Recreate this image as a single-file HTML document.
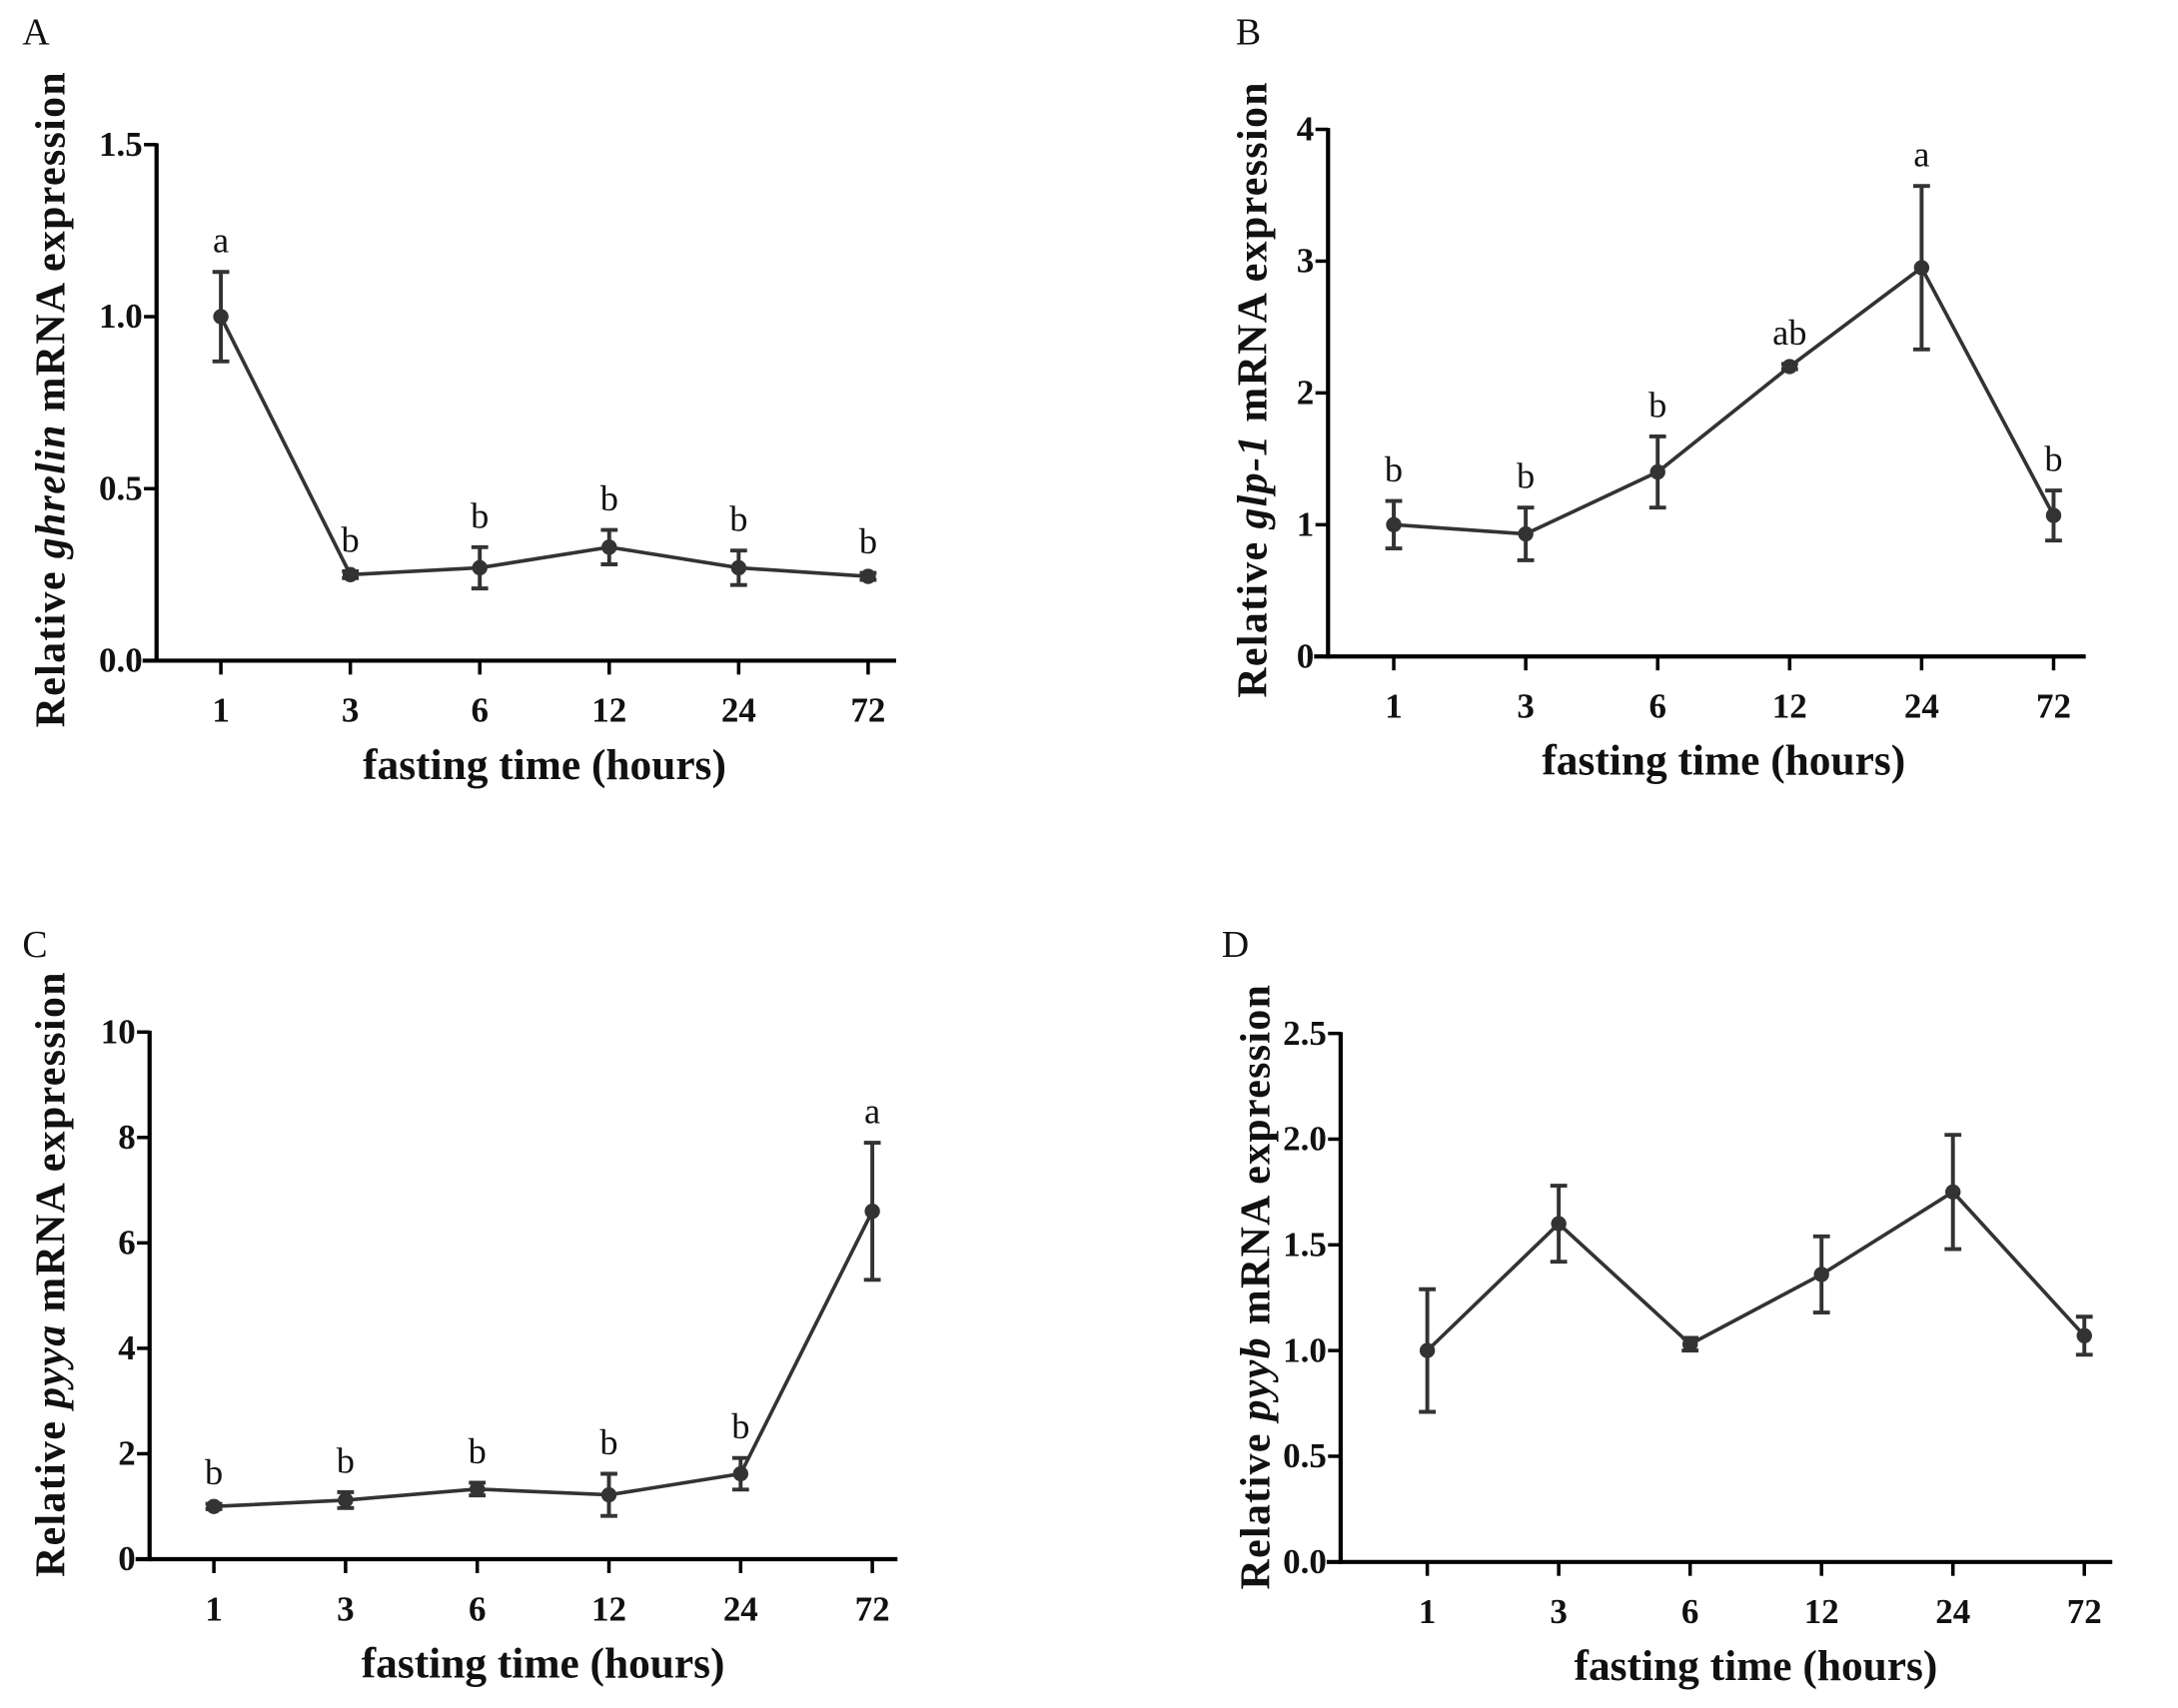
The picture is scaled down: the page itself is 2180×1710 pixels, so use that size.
<!DOCTYPE html>
<html><head><meta charset="utf-8"><style>
html,body{margin:0;padding:0;background:#fff;}
svg{display:block;}
text{font-family:"Liberation Serif",serif;fill:#111;}
</style></head><body>
<svg id="fig" width="2180" height="1710" viewBox="0 0 1558 1228" preserveAspectRatio="none" xmlns="http://www.w3.org/2000/svg"></svg>
<script>
const categories = ["1","3","6","12","24","72"];
const aValues = [1.0, 0.25, 0.27, 0.33, 0.27, 0.245];
const aErrors = [0.13, 0.01, 0.06, 0.05, 0.05, 0.01];
const aLetters = ["a","b","b","b","b","b"];
const aTicks = [0, 0.5, 1.0, 1.5];
const aTickLabels = ["0.0","0.5","1.0","1.5"];
const bValues = [1.0, 0.93, 1.4, 2.2, 2.95, 1.07];
const bErrors = [0.18, 0.2, 0.27, 0.02, 0.62, 0.19];
const bLetters = ["b","b","b","ab","a","b"];
const bTicks = [0,1,2,3,4];
const bTickLabels = ["0","1","2","3","4"];
const cValues = [1.0, 1.12, 1.33, 1.22, 1.62, 6.6];
const cErrors = [0.05, 0.15, 0.12, 0.4, 0.3, 1.3];
const cLetters = ["b","b","b","b","b","a"];
const cTicks = [0,2,4,6,8,10];
const cTickLabels = ["0","2","4","6","8","10"];
const dValues = [1.0, 1.6, 1.03, 1.36, 1.75, 1.07];
const dErrors = [0.29, 0.18, 0.03, 0.18, 0.27, 0.09];
const dLetters = [];
const dTicks = [0,0.5,1.0,1.5,2.0,2.5];
const dTickLabels = ["0.0","0.5","1.0","1.5","2.0","2.5"];

const NS = "http://www.w3.org/2000/svg";
const svg = document.getElementById("fig");
function mk(tag, attrs, parent){
  const e = document.createElementNS(NS, tag);
  for (const k in attrs) e.setAttribute(k, attrs[k]);
  (parent||svg).appendChild(e);
  return e;
}
function panel(cfg){
  const g = mk("g", {});
  
  
  const ymax = cfg.ticks[cfg.ticks.length-1];
  const yS = v => cfg.y0 - (v/ymax)*(cfg.y0 - cfg.yTop);
  const xS = i => cfg.xFirst + i*(cfg.xLast - cfg.xFirst)/(categories.length-1);
  const pl = mk("text", {x:cfg.lx, y:cfg.ly, "font-size":27}, g);
  pl.textContent = cfg.id;
  
  
  const ya = mk("line", {x1:cfg.ax, y1:cfg.yTop-1, x2:cfg.ax, y2:cfg.y0+1.5, stroke:"#000","stroke-width":3}, g);
  
  
  const xa = mk("line", {x1:cfg.ax-10, y1:cfg.y0, x2:cfg.xEnd, y2:cfg.y0, stroke:"#000","stroke-width":3}, g);
  
  
  cfg.ticks.forEach((t,i)=>{
    const y = yS(t);
    mk("line", {x1:cfg.ax-9, y1:y, x2:cfg.ax, y2:y, stroke:"#000","stroke-width":2.5}, g);
    const tl = mk("text", {x:cfg.ax-10, y:y+8, "font-size":25, "font-weight":"bold", "text-anchor":"end"}, g);
    tl.textContent = cfg.tickLabels[i];
    
    
  });
  categories.forEach((c,i)=>{
    const x = xS(i);
    mk("line", {x1:x, y1:cfg.y0, x2:x, y2:cfg.y0+10, stroke:"#000","stroke-width":2.5}, g);
    const tl = mk("text", {x:x, y:cfg.y0+44, "font-size":25, "font-weight":"bold", "text-anchor":"middle"}, g);
    tl.textContent = c;
    
    
  });
  const xt = mk("text", {x:(cfg.xFirst+cfg.xLast)/2, y:cfg.y0+85, "font-size":31, "font-weight":"bold", "text-anchor":"middle"}, g);
  xt.textContent = "fasting time (hours)";
  
  
  const yt = mk("text", {x:0, y:0, "font-size":30, "font-weight":"bold", "text-anchor":"middle", "letter-spacing":"1",
    transform:"translate(" + cfg.ytx + "," + cfg.yty + ") rotate(-90)"}, g);
  yt.appendChild(document.createTextNode("Relative "));
  const it = mk("tspan", {"font-style":"italic"}, yt);
  it.textContent = cfg.gene;
  yt.appendChild(document.createTextNode(" mRNA expression"));
  
  
  const pts = cfg.values.map((v,i)=>xS(i)+","+yS(v)).join(" ");
  const ln = mk("polyline", {points:pts, fill:"none", stroke:"#333", "stroke-width":2.6}, g);
  
  
  cfg.values.forEach((v,i)=>{
    const x = xS(i), e = cfg.errors[i];
    const eb = mk("path", {d:"M"+x+","+yS(v+e)+"V"+yS(v-e)+"M"+(x-6)+","+yS(v+e)+"H"+(x+6)+"M"+(x-6)+","+yS(v-e)+"H"+(x+6),
      stroke:"#333","stroke-width":2.8, fill:"none"}, g);
    
    
    const p = mk("circle", {cx:x, cy:yS(v), r:5.5, fill:"#333"}, g);
    
    
    if (cfg.letters[i]) {
      const lt = mk("text", {x:x, y:yS(v+e)-14, "font-size":26, "text-anchor":"middle"}, g);
      lt.textContent = cfg.letters[i];
      
      
    }
  });
}
panel({id:"A", gene:"ghrelin", values:aValues, errors:aErrors, letters:aLetters, ticks:aTicks, tickLabels:aTickLabels,
  ax:112, yTop:104, y0:475, xFirst:158, xLast:621, xEnd:641, lx:16, ly:32, ytx:46, yty:287});
panel({id:"B", gene:"glp-1", values:bValues, errors:bErrors, letters:bLetters, ticks:bTicks, tickLabels:bTickLabels,
  ax:950, yTop:93, y0:472, xFirst:997, xLast:1469, xEnd:1492, lx:884, ly:32, ytx:906, yty:280});
panel({id:"C", gene:"pyya", values:cValues, errors:cErrors, letters:cLetters, ticks:cTicks, tickLabels:cTickLabels,
  ax:107, yTop:742, y0:1121, xFirst:153, xLast:624, xEnd:642, lx:16, ly:688, ytx:46, yty:916});
panel({id:"D", gene:"pyyb", values:dValues, errors:dErrors, letters:dLetters, ticks:dTicks, tickLabels:dTickLabels,
  ax:959, yTop:743, y0:1123, xFirst:1021, xLast:1491, xEnd:1511, lx:874, ly:688, ytx:908, yty:925});
</script>
</body></html>
